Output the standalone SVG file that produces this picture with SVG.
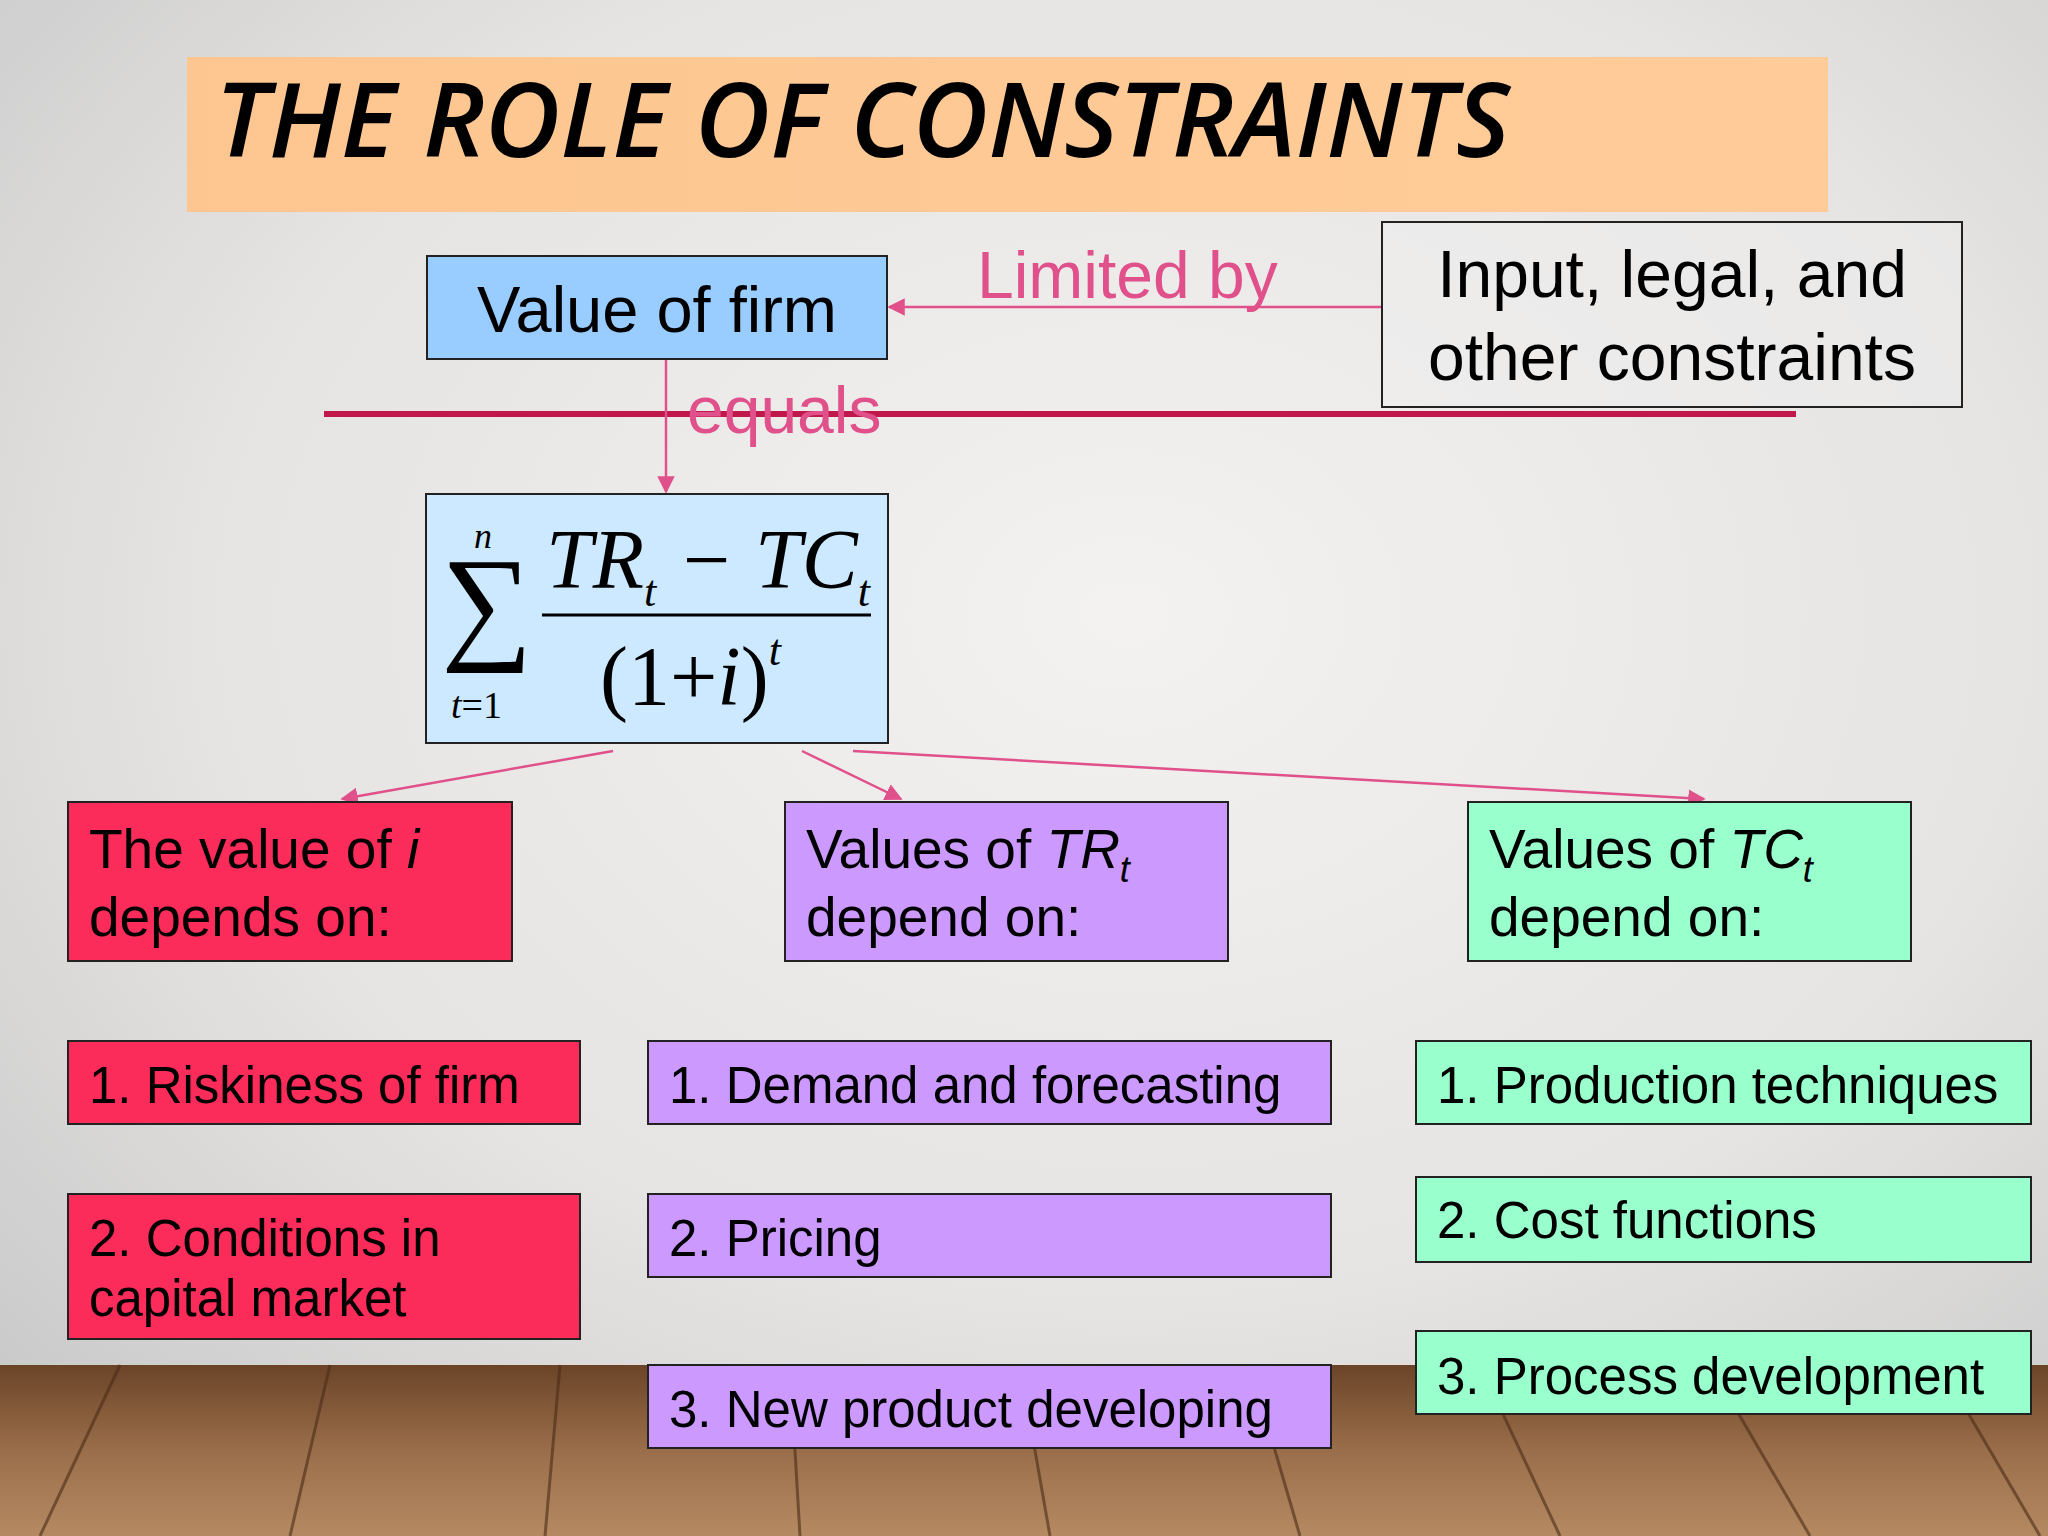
<svg xmlns="http://www.w3.org/2000/svg" width="2048" height="1536" viewBox="0 0 2048 1536">
<defs>
<radialGradient id="wall" cx="0.55" cy="0.4" r="0.75">
<stop offset="0" stop-color="#f4f2f1"/><stop offset="0.6" stop-color="#e6e4e3"/><stop offset="1" stop-color="#c9c9c9"/>
</radialGradient>
<linearGradient id="floor" x1="0" y1="0" x2="0" y2="1">
<stop offset="0" stop-color="#6b4428"/><stop offset="0.5" stop-color="#9a6e4a"/><stop offset="1" stop-color="#b58a62"/>
</linearGradient>
<linearGradient id="title" x1="0" y1="0" x2="1" y2="0">
<stop offset="0" stop-color="#fdc690"/><stop offset="1" stop-color="#ffcc99"/>
</linearGradient>
<marker id="ah" viewBox="0 0 10 10" refX="9" refY="5" markerWidth="7" markerHeight="7" orient="auto">
<path d="M0,0 L10,5 L0,10 z" fill="#e0508a"/>
</marker>
<style>
.t{font-family:"Liberation Sans",Arial,sans-serif;fill:#000}
.box{stroke:#222;stroke-width:2}
.con{stroke:#e0508a;stroke-width:2.5;fill:none;marker-end:url(#ah)}
.m{font-family:"Liberation Serif","Times New Roman",serif;fill:#000}
</style>
</defs>
<rect width="2048" height="1536" fill="url(#wall)"/>
<rect y="1365" width="2048" height="171" fill="url(#floor)"/>
<g stroke="#4a2c18" stroke-width="3" opacity="0.6">
<line x1="120" y1="1365" x2="40" y2="1536"/><line x1="330" y1="1365" x2="290" y2="1536"/><line x1="560" y1="1365" x2="545" y2="1536"/><line x1="790" y1="1365" x2="800" y2="1536"/><line x1="1020" y1="1365" x2="1050" y2="1536"/><line x1="1250" y1="1365" x2="1300" y2="1536"/><line x1="1480" y1="1365" x2="1560" y2="1536"/><line x1="1710" y1="1365" x2="1810" y2="1536"/><line x1="1940" y1="1365" x2="2040" y2="1536"/>
</g>
<g id="title-banner">
<rect x="187" y="57" width="1641" height="155" fill="url(#title)"/>
<text x="215" y="157" class="t" font-size="104" font-style="italic" textLength="1295" lengthAdjust="spacingAndGlyphs" style="font-family:'Open Sans','Liberation Sans',sans-serif;font-weight:600">THE ROLE OF CONSTRAINTS</text>
</g>
<line x1="324" y1="414" x2="1796" y2="414" stroke="#c0184a" stroke-width="6"/>
<g id="connectors">
<line class="con" x1="1382" y1="307" x2="889" y2="307"/>
<line class="con" x1="666" y1="360" x2="666" y2="492"/>
<line class="con" x1="613" y1="751" x2="342" y2="799"/>
<line class="con" x1="802" y1="751" x2="901" y2="799"/>
<line class="con" x1="853" y1="751" x2="1704" y2="799"/>
<text x="977" y="298" class="t" font-size="66" style="fill:#e0508a">Limited by</text>
<text x="687" y="433" class="t" font-size="66" style="fill:#e0508a">equals</text>
</g>
<g id="value-of-firm">
<rect x="427" y="256" width="460" height="103" fill="#99ccff" class="box"/>
<text x="657" y="332" class="t" font-size="65" text-anchor="middle">Value of firm</text>
</g>
<g id="constraints">
<rect x="1382" y="222" width="580" height="185" fill="#eeeded" fill-opacity="0.5" class="box"/>
<text x="1672" y="297" class="t" font-size="66" text-anchor="middle">Input, legal, and</text>
<text x="1672" y="380" class="t" font-size="66" text-anchor="middle">other constraints</text>
</g>
<g id="formula">
<rect x="426" y="494" width="462" height="249" fill="#cce9ff" class="box"/>
<text x="441" y="646" class="m" font-size="128">∑</text>
<text x="474" y="548" class="m" font-size="36" font-style="italic">n</text>
<text x="451" y="718" class="m" font-size="38"><tspan font-style="italic">t</tspan>=1</text>
<text x="546" y="588" class="m" font-size="84" font-style="italic">TR<tspan font-size="44" dy="18">t</tspan><tspan dy="-18"> − TC</tspan><tspan font-size="44" dy="18">t</tspan></text>
<line x1="542" y1="615" x2="871" y2="615" stroke="#000" stroke-width="3"/>
<text x="600" y="705" class="m" font-size="84">(1+<tspan font-style="italic">i</tspan>)<tspan font-size="44" font-style="italic" dy="-40">t</tspan></text>
</g>
<g id="i-head">
<rect x="68" y="802" width="444" height="159" fill="#fb2c5a" class="box"/>
<text x="89" y="868" class="t" font-size="55">The value of <tspan font-style="italic">i</tspan></text>
<text x="89" y="936" class="t" font-size="55">depends on:</text>
</g>
<g id="tr-head">
<rect x="785" y="802" width="443" height="159" fill="#cc99ff" class="box"/>
<text x="806" y="868" class="t" font-size="55">Values of <tspan font-style="italic">TR</tspan><tspan font-style="italic" font-size="36" dy="14">t</tspan></text>
<text x="806" y="936" class="t" font-size="55">depend on:</text>
</g>
<g id="tc-head">
<rect x="1468" y="802" width="443" height="159" fill="#99ffcc" class="box"/>
<text x="1489" y="868" class="t" font-size="55">Values of <tspan font-style="italic">TC</tspan><tspan font-style="italic" font-size="36" dy="14">t</tspan></text>
<text x="1489" y="936" class="t" font-size="55">depend on:</text>
</g>
<g id="i1"><rect x="68" y="1041" width="512" height="83" fill="#fb2c5a" class="box"/><text x="89" y="1103" class="t" font-size="51">1. Riskiness of firm</text></g>
<g id="i2"><rect x="68" y="1194" width="512" height="145" fill="#fb2c5a" class="box"/><text x="89" y="1256" class="t" font-size="51">2. Conditions in</text><text x="89" y="1316" class="t" font-size="51">capital market</text></g>
<g id="tr1"><rect x="648" y="1041" width="683" height="83" fill="#cc99ff" class="box"/><text x="669" y="1103" class="t" font-size="51">1. Demand and forecasting</text></g>
<g id="tr2"><rect x="648" y="1194" width="683" height="83" fill="#cc99ff" class="box"/><text x="669" y="1256" class="t" font-size="51">2. Pricing</text></g>
<g id="tr3"><rect x="648" y="1365" width="683" height="83" fill="#cc99ff" class="box"/><text x="669" y="1427" class="t" font-size="51">3. New product developing</text></g>
<g id="tc1"><rect x="1416" y="1041" width="615" height="83" fill="#99ffcc" class="box"/><text x="1437" y="1103" class="t" font-size="51">1. Production techniques</text></g>
<g id="tc2"><rect x="1416" y="1177" width="615" height="85" fill="#99ffcc" class="box"/><text x="1437" y="1238" class="t" font-size="51">2. Cost functions</text></g>
<g id="tc3"><rect x="1416" y="1331" width="615" height="83" fill="#99ffcc" class="box"/><text x="1437" y="1394" class="t" font-size="51">3. Process development</text></g>
</svg>
